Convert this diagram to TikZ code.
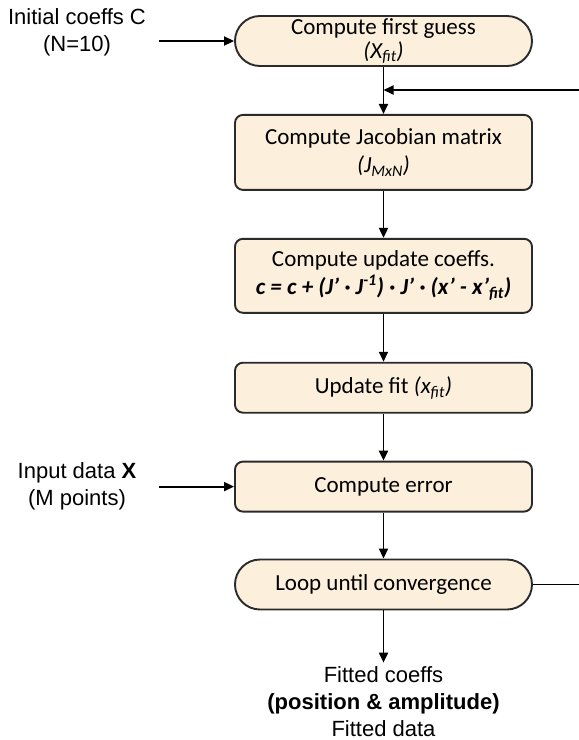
\documentclass[tikz,border=0pt]{standalone}
\usepackage{fontspec}
\setmainfont{Liberation Sans}
\newfontfamily\calib{Carlito}
\usepackage{tikz}
\usetikzlibrary{positioning,arrows.meta}
\definecolor{peach}{HTML}{FCEFDC}
\definecolor{edge}{HTML}{2A2A2A}

\begin{document}
\begin{tikzpicture}[
node distance={47pt}, line width=1.9pt, >={Triangle[length=10pt,width=9pt]},
squarednode/.style={rectangle, rounded corners=8pt, draw=edge, fill=peach, minimum width=297pt, minimum height=50pt, inner sep=1pt, align=center, font=\calib\fontsize{23}{28}\selectfont},
pillnode/.style={squarednode, rounded corners=25pt},
labelnode/.style={align=center, font=\fontsize{22}{27}\selectfont}]
\useasboundingbox (0,0) rectangle (579pt,-740pt);
\node[pillnode, font=\calib\fontsize{23}{24}\selectfont, inner sep=0pt] (1) at (383.5pt,-41pt) {Compute first guess\\\textit{(X\textsubscript{fit})}};
\node[squarednode, minimum height=75pt] (2) [below=of 1] {Compute Jacobian matrix\\\textit{(J\textsubscript{MxN})}};
\node[squarednode, minimum height=74pt] (3) [below=of 2] {Compute update coeffs.\\\textbf{\textit{c = c + (J’ · J\textsuperscript{-1}) · J’ · (x’ - x’\textsubscript{fit})}}};
\node[squarednode] (4) [below=48pt of 3] {Update fit \textit{(x\textsubscript{fit})}};
\node[squarednode] (5) [below=of 4] {Compute error};
\node[pillnode] (6) [below=46pt of 5] {Loop until convergence};
\node[labelnode] (7) at (77pt,-32.5pt) {Initial coeffs C\\(N=10)};
\node[labelnode] (8) at (5.west) [xshift=-157pt] {Input data \textbf{X}\\(M points)};
\node[labelnode] (9) at (383.5pt,-702pt) {Fitted coeffs\\\textbf{(position \& amplitude)}\\Fitted data};
\coordinate[left=75pt of 1.west] (a);
\coordinate[left=75pt of 5.west] (b);
\coordinate (c) at (579pt,-90pt);
\coordinate (d) at (1.south |- c);
\coordinate[right=47pt of 6.east] (e);
\draw[->] (a) -- (1);
\draw[->] (1) -- (2);
\draw[->] (c) -- (d);
\draw[->] (2) -- (3);
\draw[->] (3) -- (4);
\draw[->] (4) -- (5);
\draw[->] (b) -- (5);
\draw[->] (5) -- (6);
\draw (6) -- (e);
\draw[->] (6) -- (9);
\end{tikzpicture}
\end{document}
